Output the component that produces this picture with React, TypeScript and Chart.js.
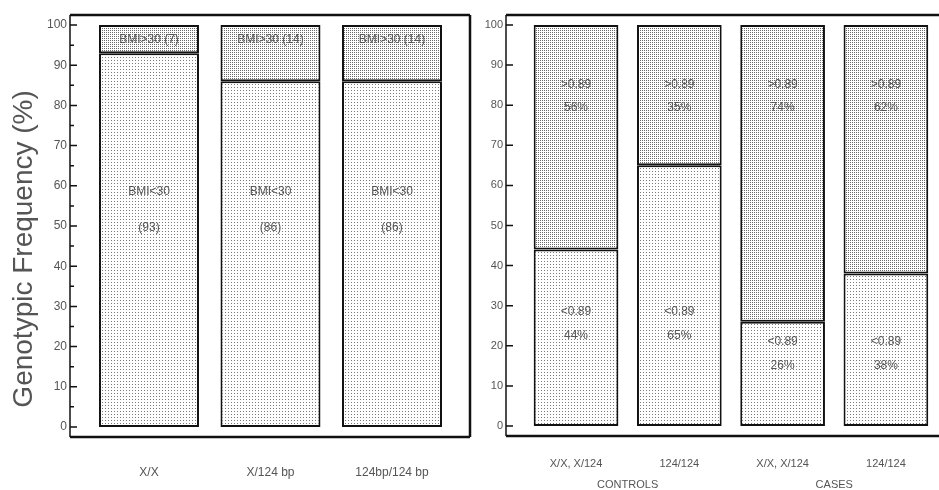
import React, { useEffect, useRef } from 'react';
import { Chart, registerables } from 'chart.js';
Chart.register(...registerables);

// ---------- data ----------
const LEFT_CATEGORIES = ['X/X', 'X/124 bp', '124bp/124 bp'];
const BMI_UNDER_30 = [93, 86, 86];
const BMI_OVER_30 = [7, 14, 14];

const RIGHT_CATEGORIES = ['X/X, X/124', '124/124', 'X/X, X/124', '124/124'];
const RIGHT_GROUPS = ['CONTROLS', 'CASES'];
const RATIO_BELOW = [44, 65, 26, 38];
const RATIO_ABOVE = [56, 35, 74, 62];

const Y_TICKS = [0, 10, 20, 30, 40, 50, 60, 70, 80, 90, 100];
const Y_TITLE = 'Genotypic Frequency (%)';

const FONT = '"Liberation Sans", Arial, sans-serif';
const TEXT = '#555';

function makePattern(size: number, dots: number[][], dotColor: string) {
  const c = document.createElement('canvas');
  c.width = size;
  c.height = size;
  const g = c.getContext('2d')!;
  g.fillStyle = '#fff';
  g.fillRect(0, 0, size, size);
  g.fillStyle = dotColor;
  dots.forEach(([x, y]) => g.fillRect(x, y, 1, 1));
  return g.createPattern(c, 'repeat')!;
}

function framePlugin(rightBorder: boolean, minor: boolean) {
  return {
    id: 'frame',
    afterDraw(chart: any) {
      const { ctx, chartArea: a, scales } = chart;
      const y = scales.y;
      ctx.save();
      ctx.strokeStyle = '#111';
      ctx.lineWidth = 2.5;
      ctx.beginPath();
      ctx.moveTo(a.left, a.top);
      ctx.lineTo(a.right, a.top);
      ctx.moveTo(a.left, a.bottom);
      ctx.lineTo(a.right, a.bottom);
      if (rightBorder) {
        ctx.moveTo(a.right, a.top);
        ctx.lineTo(a.right, a.bottom);
      }
      ctx.stroke();
      ctx.lineWidth = 1.5;
      ctx.beginPath();
      ctx.moveTo(a.left, a.top);
      ctx.lineTo(a.left, a.bottom);
      ctx.stroke();
      ctx.lineWidth = 1.5;
      ctx.beginPath();
      for (let v = 0; v <= 100; v += 5) {
        const major = v % 10 === 0;
        if (!major && !minor) continue;
        const py = y.getPixelForValue(v);
        ctx.moveTo(a.left, py);
        ctx.lineTo(a.left + (major ? 7 : 4), py);
      }
      ctx.stroke();
      ctx.restore();
    },
  };
}

function baseOptions(xmin: number, xmax: number, labels: string[], yWidth: number, xHeight: number, tickFont: number, xPad: number, padRight: number) {
  return {
    responsive: false,
    animation: false,
    layout: { padding: { top: 15, right: padRight, left: 0, bottom: 0 } },
    plugins: { legend: { display: false }, tooltip: { enabled: false } },
    scales: {
      x: {
        type: 'linear',
        stacked: true,
        offset: false,
        min: xmin,
        max: xmax,
        afterBuildTicks: (s: any) => {
          s.ticks = labels.map((_, i) => ({ value: i + 1 }));
        },
        afterFit: (s: any) => {
          s.height = xHeight;
        },
        ticks: {
          callback: (v: number) => labels[Math.round(v) - 1] ?? '',
          color: TEXT,
          font: { family: FONT, size: tickFont },
          padding: xPad,
          maxRotation: 0,
          autoSkip: false,
        },
        grid: { display: false, drawTicks: false },
        border: { display: false },
      },
      y: {
        stacked: true,
        min: -2.5,
        max: 102.5,
        afterBuildTicks: (s: any) => {
          s.ticks = Y_TICKS.map((v) => ({ value: v }));
        },
        afterFit: (s: any) => {
          s.width = yWidth;
        },
        ticks: {
          color: TEXT,
          font: { family: FONT, size: tickFont },
          padding: 3,
        },
        grid: { display: false, drawTicks: false },
        border: { display: false },
      },
    },
  };
}

export default function App() {
  const leftRef = useRef<HTMLCanvasElement>(null);
  const rightRef = useRef<HTMLCanvasElement>(null);

  useEffect(() => {
    const low = makePattern(3, [[0, 0]], '#7a7a7a');
    const high = makePattern(2, [[0, 0]], '#6a6a6a');

    const barStyle = {
      borderColor: '#111',
      borderWidth: 2,
      borderSkipped: false as const,
      categoryPercentage: 1,
    };

    const leftLabels = {
      id: 'leftLabels',
      afterDraw(chart: any) {
        const { ctx, scales } = chart;
        const { x, y } = scales;
        ctx.save();
        ctx.fillStyle = TEXT;
        ctx.font = `12px ${FONT}`;
        ctx.textAlign = 'center';
        ctx.textBaseline = 'middle';
        LEFT_CATEGORIES.forEach((_, i) => {
          const cx = x.getPixelForValue(i + 1);
          ctx.fillText(`BMI>30 (${BMI_OVER_30[i]})`, cx, y.getPixelForValue(96.3));
          ctx.fillText('BMI<30', cx, y.getPixelForValue(58.5));
          ctx.fillText(`(${BMI_UNDER_30[i]})`, cx, y.getPixelForValue(49.7));
        });
        // axis title
        ctx.save();
        ctx.font = `28px ${FONT}`;
        ctx.fillStyle = TEXT;
        ctx.textBaseline = 'alphabetic';
        ctx.translate(32, y.getPixelForValue(44.3));
        ctx.rotate(-Math.PI / 2);
        ctx.fillText(Y_TITLE, 0, 0);
        ctx.restore();
        ctx.restore();
      },
    };

    const lowerAt = [28.5, 28.5, 21, 21];
    const rightLabels = {
      id: 'rightLabels',
      afterDraw(chart: any) {
        const { ctx, scales } = chart;
        const { x, y } = scales;
        ctx.save();
        ctx.fillStyle = TEXT;
        ctx.font = `12px ${FONT}`;
        ctx.textAlign = 'center';
        ctx.textBaseline = 'middle';
        RIGHT_CATEGORIES.forEach((_, i) => {
          const cx = x.getPixelForValue(i + 1);
          ctx.fillText('>0.89', cx, y.getPixelForValue(85));
          ctx.fillText(`${RATIO_ABOVE[i]}%`, cx, y.getPixelForValue(79.3));
          ctx.fillText('<0.89', cx, y.getPixelForValue(lowerAt[i]));
          ctx.fillText(`${RATIO_BELOW[i]}%`, cx, y.getPixelForValue(lowerAt[i] - 6));
        });
        ctx.font = `11px ${FONT}`;
        ctx.textBaseline = 'top';
        RIGHT_GROUPS.forEach((g, k) => {
          ctx.fillText(g, x.getPixelForValue(2 * k + 1.5), 479);
        });
        ctx.restore();
      },
    };

    const left = new Chart(leftRef.current!, {
      type: 'bar',
      data: {
        datasets: [
          {
            label: 'BMI<30',
            data: BMI_UNDER_30.map((v, i) => ({ x: i + 1, y: v })),
            backgroundColor: low,
            barPercentage: 0.823,
            ...barStyle,
          },
          {
            label: 'BMI>30',
            data: BMI_OVER_30.map((v, i) => ({ x: i + 1, y: v })),
            backgroundColor: high,
            barPercentage: 0.823,
            ...barStyle,
          },
        ],
      },
      options: baseOptions(0.35, 3.642, LEFT_CATEGORIES, 70, 53, 12, 28, 2) as any,
      plugins: [framePlugin(true, true), leftLabels],
    });

    const right = new Chart(rightRef.current!, {
      type: 'bar',
      data: {
        datasets: [
          {
            label: '<0.89',
            data: RATIO_BELOW.map((v, i) => ({ x: i + 1, y: v })),
            backgroundColor: low,
            barPercentage: 0.82,
            ...barStyle,
          },
          {
            label: '>0.89',
            data: RATIO_ABOVE.map((v, i) => ({ x: i + 1, y: v })),
            backgroundColor: high,
            barPercentage: 0.82,
            ...barStyle,
          },
        ],
      },
      options: baseOptions(0.322, 4.514, RIGHT_CATEGORIES, 34, 54, 11, 21, 0) as any,
      plugins: [framePlugin(false, false), rightLabels],
    });

    return () => {
      left.destroy();
      right.destroy();
    };
  }, []);

  return (
    <div style={{ position: 'absolute', left: 0, top: 0, width: 939, height: 490, background: '#fff' }}>
      <canvas ref={leftRef} width={472} height={490} style={{ position: 'absolute', left: 0, top: 0 }} />
      <canvas ref={rightRef} width={467} height={490} style={{ position: 'absolute', left: 472, top: 0 }} />
    </div>
  );
}
